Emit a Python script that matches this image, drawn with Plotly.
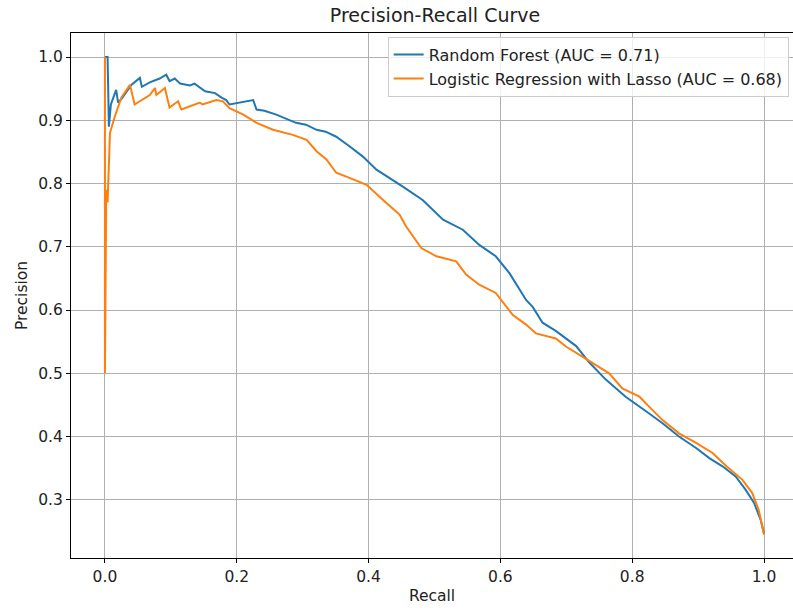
import plotly.graph_objects as go

# Random Forest PR curve (recall, precision)
rf_recall = [0.0, 0.004, 0.006, 0.009, 0.017, 0.020, 0.026, 0.040, 0.053, 0.056, 0.068, 0.083, 0.093,
             0.098, 0.106, 0.114, 0.129, 0.136, 0.152, 0.167, 0.177, 0.184, 0.189, 0.205, 0.225, 0.230,
             0.242, 0.260, 0.274, 0.290, 0.305, 0.321, 0.335, 0.351, 0.371, 0.391, 0.412, 0.432, 0.452,
             0.482, 0.513, 0.543, 0.568, 0.593, 0.614, 0.639, 0.649, 0.664, 0.684, 0.715, 0.735, 0.760,
             0.790, 0.821, 0.846, 0.871, 0.897, 0.917, 0.937, 0.957, 0.972, 0.985, 0.995, 1.0]
rf_precision = [1.0, 1.0, 0.89, 0.925, 0.948, 0.928, 0.935, 0.956, 0.967, 0.953, 0.960, 0.966, 0.972,
                0.962, 0.966, 0.958, 0.955, 0.958, 0.946, 0.943, 0.936, 0.932, 0.925, 0.928, 0.932, 0.917,
                0.915, 0.909, 0.903, 0.896, 0.893, 0.885, 0.882, 0.874, 0.859, 0.843, 0.822, 0.809, 0.795,
                0.774, 0.743, 0.727, 0.703, 0.685, 0.658, 0.616, 0.605, 0.580, 0.567, 0.543, 0.517, 0.490,
                0.463, 0.440, 0.421, 0.400, 0.382, 0.366, 0.353, 0.337, 0.316, 0.295, 0.268, 0.247]

# Logistic Regression with Lasso PR curve (recall, precision)
lr_recall = [0.0, 0.0, 0.002, 0.004, 0.006, 0.0076, 0.015, 0.025, 0.038, 0.045, 0.068, 0.076, 0.078,
             0.091, 0.098, 0.111, 0.116, 0.144, 0.148, 0.169, 0.179, 0.189, 0.210, 0.230, 0.255, 0.285,
             0.306, 0.321, 0.336, 0.351, 0.371, 0.397, 0.422, 0.447, 0.457, 0.480, 0.503, 0.533, 0.548,
             0.568, 0.593, 0.603, 0.619, 0.639, 0.654, 0.684, 0.700, 0.725, 0.745, 0.765, 0.785, 0.811,
             0.826, 0.846, 0.871, 0.897, 0.922, 0.943, 0.967, 0.982, 0.992, 1.0]
lr_precision = [1.0, 0.5, 0.79, 0.77, 0.83, 0.88, 0.906, 0.936, 0.956, 0.925, 0.940, 0.951, 0.940,
                0.951, 0.920, 0.930, 0.917, 0.928, 0.925, 0.932, 0.930, 0.919, 0.909, 0.896, 0.885, 0.877,
                0.869, 0.851, 0.838, 0.817, 0.809, 0.798, 0.774, 0.751, 0.732, 0.698, 0.685, 0.677, 0.656,
                0.640, 0.627, 0.614, 0.592, 0.577, 0.563, 0.555, 0.542, 0.526, 0.513, 0.500, 0.476, 0.463,
                0.447, 0.426, 0.405, 0.390, 0.374, 0.353, 0.332, 0.311, 0.284, 0.245]

x_ticks = [0.0, 0.2, 0.4, 0.6, 0.8, 1.0]
y_ticks = [0.3, 0.4, 0.5, 0.6, 0.7, 0.8, 0.9, 1.0]

FONT = "DejaVu Sans"

fig = go.Figure()
fig.add_trace(go.Scatter(x=rf_recall, y=rf_precision, mode="lines",
                         name="Random Forest (AUC = 0.71)",
                         line=dict(color="#1f77b4", width=2)))
fig.add_trace(go.Scatter(x=lr_recall, y=lr_precision, mode="lines",
                         name="Logistic Regression with Lasso (AUC = 0.68)",
                         line=dict(color="#ff7f0e", width=2)))

axis_common = dict(
    showgrid=True, gridcolor="#b0b0b0", gridwidth=0.8,
    showline=True, linecolor="black", linewidth=1,
    ticks="outside", ticklen=4, tickcolor="black", tickwidth=1,
    zeroline=False, automargin=False,
    tickfont=dict(family=FONT, size=15.5, color="#222"),
)

fig.update_layout(
    width=793, height=610,
    margin=dict(l=71, r=0, t=33, b=52),
    paper_bgcolor="white", plot_bgcolor="white",
    font=dict(family=FONT, size=15.5, color="#222"),
    title=dict(text="Precision-Recall Curve", x=435/793, xref="container", xanchor="center",
               y=1 - 15/610, yref="container", yanchor="middle",
               font=dict(family=FONT, size=19, color="#222")),
    xaxis=dict(range=[-0.0515, 1.044], tickvals=x_ticks, tickformat=".1f", mirror=True,
               title=dict(text="Recall", font=dict(family=FONT, size=15.5), standoff=5),
               **axis_common),
    yaxis=dict(range=[0.208, 1.038], tickvals=y_ticks, tickformat=".1f", mirror=False,
               title=dict(text="Precision", font=dict(family=FONT, size=15.5), standoff=6),
               **axis_common),
    legend=dict(x=0.994, y=0.993, xanchor="right", yanchor="top",
                bgcolor="rgba(255,255,255,0.8)", bordercolor="#cccccc", borderwidth=1,
                font=dict(family=FONT, size=16, color="#222"), tracegroupgap=0),
    showlegend=True,
)

fig.write_html("out.html", config={"displayModeBar": False},
               post_script="document.body.style.margin='0px';")
